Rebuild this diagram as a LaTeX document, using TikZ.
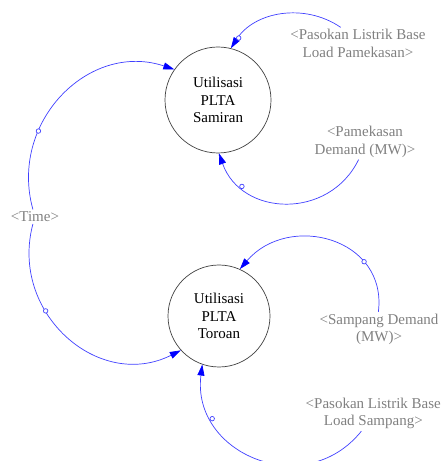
\documentclass[tikz,border=0pt]{standalone}
\usepackage{fontspec}
\setmainfont{Liberation Serif}
\usetikzlibrary{arrows.meta}
\definecolor{linkblue}{RGB}{64,64,255}
\definecolor{tipblue}{RGB}{0,0,255}
\definecolor{labelgray}{RGB}{128,128,128}
\begin{document}
\begin{tikzpicture}[x=1pt,y=1pt,
  varnode/.style={circle, draw=black!75, line width=0.7pt, inner sep=0pt,
    align=center, font=\fontsize{15}{17.3}\selectfont},
  shadowvar/.style={text=labelgray, align=center, inner sep=2pt,
    font=\fontsize{15}{17.3}\selectfont},
  link/.style={draw=linkblue, line width=0.7pt,
    -{Triangle[length=11pt,width=7pt,color=tipblue]}},
  hole/.style={circle, draw=linkblue, fill=white, inner sep=0pt,
    minimum size=4.5pt, line width=0.7pt}]
\useasboundingbox (0,0) rectangle (442,461);

% stocks
\node[varnode, minimum size=106pt] (sam) at (218,361) {Utilisasi\\PLTA\\Samiran};
\node[varnode, minimum size=102pt] (tor) at (219,145) {Utilisasi\\PLTA\\Toroan};

% shadow variables
\node[shadowvar] (pasP) at (358,417.5) {<Pasokan Listrik Base\\Load Pamekasan>};
\node[shadowvar] (pamD) at (365,319) {<Pamekasan\\Demand (MW)>};
\node[shadowvar] (time) at (35,244.3) {<Time>};
\node[shadowvar] (samD) at (379,131.5) {<Sampang Demand\\(MW)>};
\node[shadowvar] (pasS) at (373.3,47.5) {<Pasokan Listrik Base\\Load Sampang>};

% causal links
\draw[link] (pasP.137) to[out=145.5, in=57.5] node[hole,pos=0.9]{} (sam.76);
\draw[link] (pamD.-110) to[out=-116, in=-70.5, looseness=1.23] node[hole,pos=0.78]{} (sam.-89);
\draw[link] (time.106) to[out=105.6, in=161.6, looseness=1.16] node[hole,pos=0.32]{} (sam.145);
\draw[link] (time.-106) to[out=255, in=206.7, looseness=1.21] node[hole,pos=0.36]{} (tor.222);
\draw[link] (samD.92) to[out=83, in=49.5, looseness=1.32] node[hole,pos=0.28]{} (tor.66);
\draw[link] (pasS.-124) to[out=-128.8, in=-97.1, looseness=1.34] node[hole,pos=0.77]{} (tor.-109);
\end{tikzpicture}
\end{document}
